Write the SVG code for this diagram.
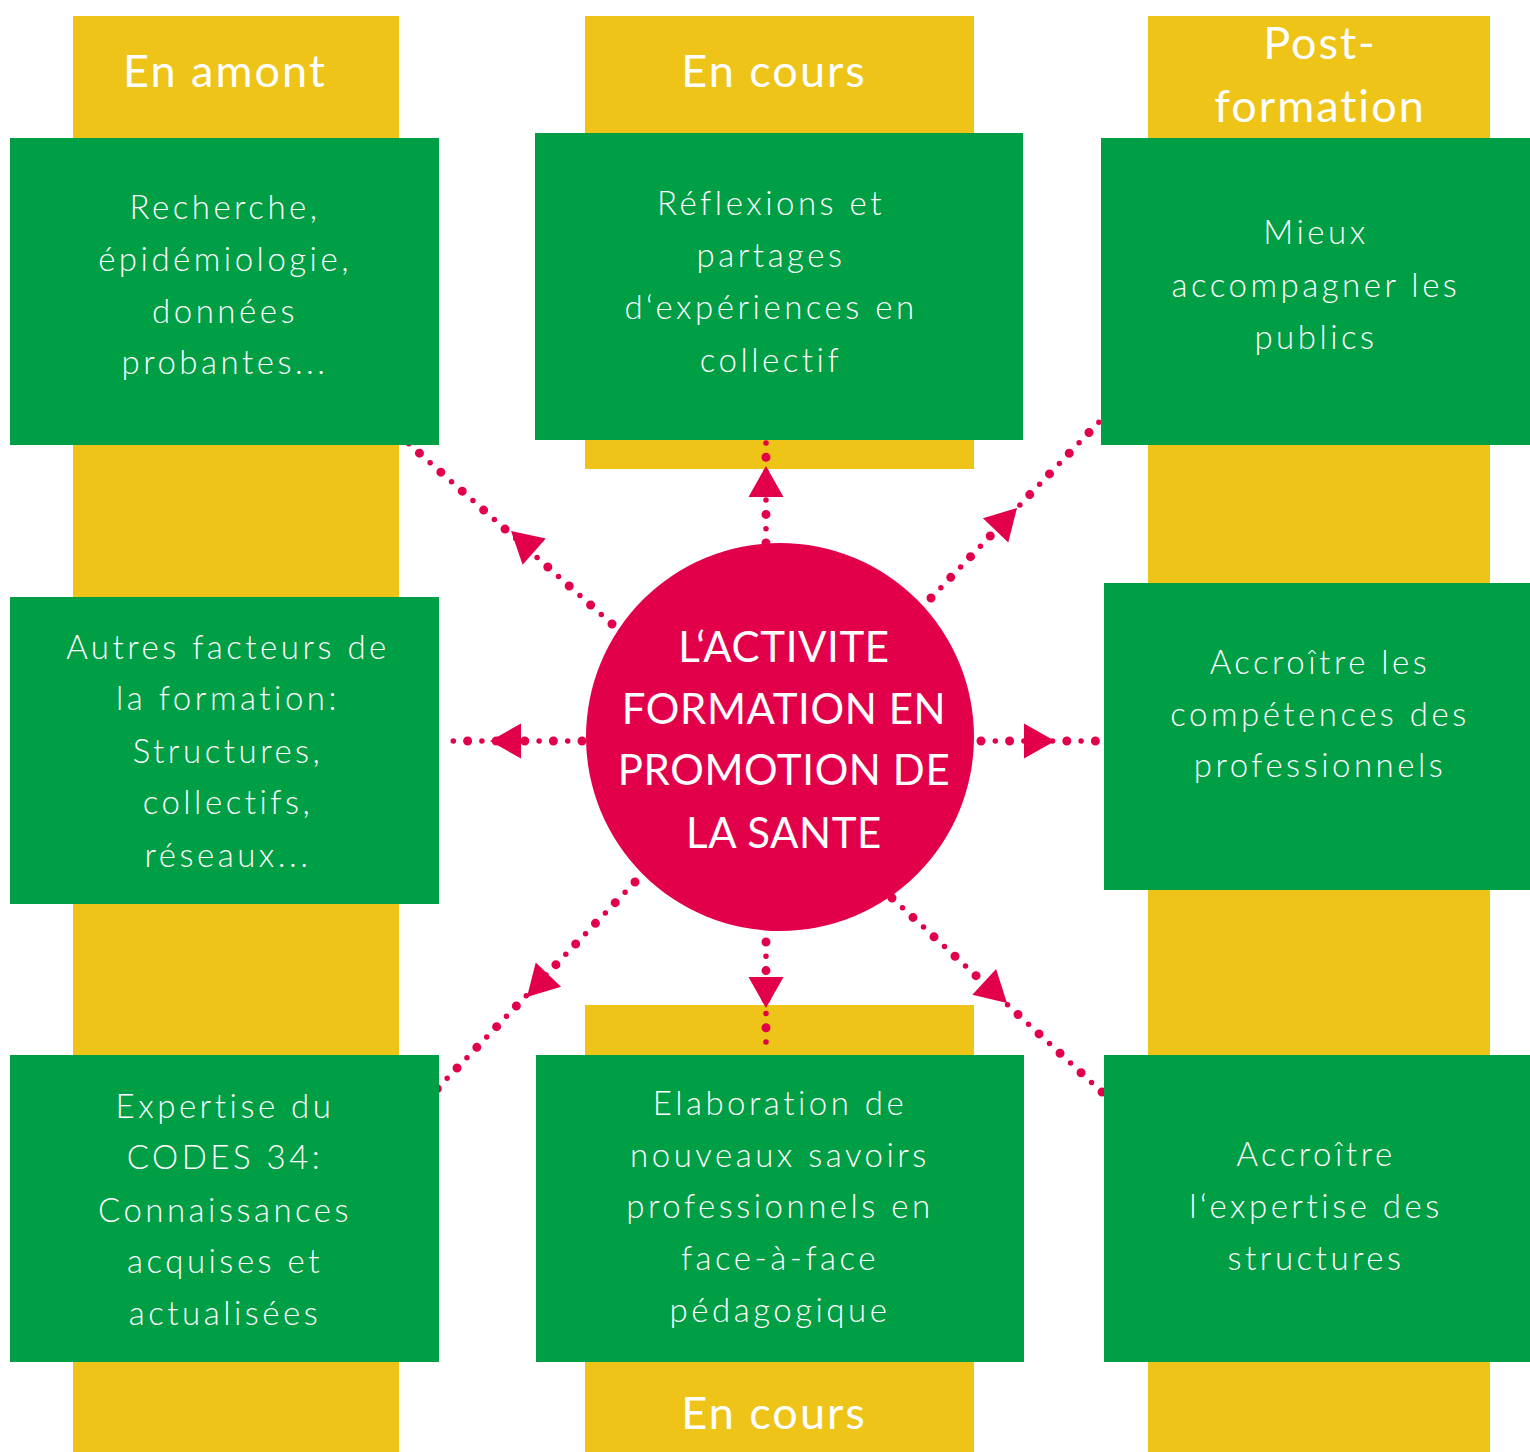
<svg xmlns="http://www.w3.org/2000/svg" xmlns:xlink="http://www.w3.org/1999/xlink" width="1530" height="1452" viewBox="0 0 1530 1452">
<style>
.col{fill:#EDC417}
.box{fill:#009E45}
.hub{fill:#E3004A}
.t{font-family:Lato,"Open Sans","Liberation Sans",sans-serif;font-weight:300;font-size:33px;letter-spacing:3.5px;fill:#fff;text-anchor:middle}
.h{font-family:Lato,"Open Sans","Liberation Sans",sans-serif;font-weight:400;font-size:45px;letter-spacing:2px;fill:#fff;text-anchor:middle}
.c{font-family:Lato,"Open Sans","Liberation Sans",sans-serif;font-weight:400;font-size:42px;letter-spacing:0.6px;fill:#fff;text-anchor:middle}
.dl{stroke:#E3004A;stroke-width:9;stroke-linecap:round;stroke-dasharray:0 28.6;fill:none}
.ds{stroke:#E3004A;stroke-width:5.5;stroke-linecap:round;stroke-dasharray:0 28.6;stroke-dashoffset:-14.3;fill:none}
.ah{fill:#E3004A}
</style>
<defs>
<polygon id="arr" points="0,0 -31,-17.5 -31,17.5"/>
</defs>
<rect width="1530" height="1452" fill="#fff"/>
<g id="columns">
<rect class="col" x="73" y="16" width="326" height="1436"/>
<rect class="col" x="585" y="16" width="389" height="453"/>
<rect class="col" x="585" y="1005" width="389" height="447"/>
<rect class="col" x="1148" y="16" width="342" height="1436"/>
<text class="h" x="225" y="87">En amont</text>
<text class="h" x="774" y="87">En cours</text>
<text class="h" x="1320" y="59">Post-</text>
<text class="h" x="1320" y="122">formation</text>
<text class="h" x="774" y="1429">En cours</text>
</g>
<g id="connectors">
<line class="dl" x1="612" y1="624" x2="408" y2="443"/>
<line class="ds" x1="612" y1="624" x2="408" y2="443"/>
<line class="dl" x1="766" y1="543" x2="766" y2="440"/>
<line class="ds" x1="766" y1="543" x2="766" y2="440"/>
<line class="dl" x1="931" y1="598" x2="1100" y2="421"/>
<line class="ds" x1="931" y1="598" x2="1100" y2="421"/>
<line class="dl" x1="582" y1="741" x2="440" y2="741"/>
<line class="ds" x1="582" y1="741" x2="440" y2="741"/>
<line class="dl" x1="981" y1="741" x2="1100" y2="741"/>
<line class="ds" x1="981" y1="741" x2="1100" y2="741"/>
<line class="dl" x1="635" y1="882" x2="436" y2="1090"/>
<line class="ds" x1="635" y1="882" x2="436" y2="1090"/>
<line class="dl" x1="766" y1="942" x2="766" y2="1055"/>
<line class="ds" x1="766" y1="942" x2="766" y2="1055"/>
<line class="dl" x1="892" y1="898" x2="1103" y2="1093"/>
<line class="ds" x1="892" y1="898" x2="1103" y2="1093"/>
<use xlink:href="#arr" class="ah" transform="translate(511,531) rotate(-138.5)"/>
<use xlink:href="#arr" class="ah" transform="translate(766,466) rotate(-90)"/>
<use xlink:href="#arr" class="ah" transform="translate(1017,508) rotate(-46.3)"/>
<use xlink:href="#arr" class="ah" transform="translate(490,741) rotate(180)"/>
<use xlink:href="#arr" class="ah" transform="translate(1055,741) rotate(0)"/>
<use xlink:href="#arr" class="ah" transform="translate(527,997) rotate(133.7)"/>
<use xlink:href="#arr" class="ah" transform="translate(766,1008) rotate(90)"/>
<use xlink:href="#arr" class="ah" transform="translate(1007,1003) rotate(42.7)"/>
</g>
<g id="n-amont1">
<rect class="box" x="10" y="138" width="429" height="307"/>
<text class="t" x="225" y="219">Recherche,</text>
<text class="t" x="225" y="271">épidémiologie,</text>
<text class="t" x="225" y="323">données</text>
<text class="t" x="225" y="374">probantes...</text>
</g>
<g id="n-amont2">
<rect class="box" x="10" y="597" width="429" height="307"/>
<text class="t" x="228" y="659">Autres facteurs de</text>
<text class="t" x="228" y="710">la formation:</text>
<text class="t" x="228" y="763">Structures,</text>
<text class="t" x="228" y="814">collectifs,</text>
<text class="t" x="228" y="867">réseaux...</text>
</g>
<g id="n-amont3">
<rect class="box" x="10" y="1055" width="429" height="307"/>
<text class="t" x="225" y="1118">Expertise du</text>
<text class="t" x="225" y="1169">CODES 34:</text>
<text class="t" x="225" y="1222">Connaissances</text>
<text class="t" x="225" y="1273">acquises et</text>
<text class="t" x="225" y="1325">actualisées</text>
</g>
<g id="n-cours1">
<rect class="box" x="535" y="133" width="488" height="307"/>
<text class="t" x="771" y="215">Réflexions et</text>
<text class="t" x="771" y="267">partages</text>
<text class="t" x="771" y="319">d‘expériences en</text>
<text class="t" x="771" y="372">collectif</text>
</g>
<g id="n-cours2">
<rect class="box" x="536" y="1055" width="488" height="307"/>
<text class="t" x="780" y="1115">Elaboration de</text>
<text class="t" x="780" y="1167">nouveaux savoirs</text>
<text class="t" x="780" y="1218">professionnels en</text>
<text class="t" x="780" y="1270">face-à-face</text>
<text class="t" x="780" y="1322">pédagogique</text>
</g>
<g id="n-post1">
<rect class="box" x="1101" y="138" width="429" height="307"/>
<text class="t" x="1316" y="244">Mieux</text>
<text class="t" x="1316" y="297">accompagner les</text>
<text class="t" x="1316" y="349">publics</text>
</g>
<g id="n-post2">
<rect class="box" x="1104" y="583" width="426" height="307"/>
<text class="t" x="1320" y="674">Accroître les</text>
<text class="t" x="1320" y="726">compétences des</text>
<text class="t" x="1320" y="777">professionnels</text>
</g>
<g id="n-post3">
<rect class="box" x="1104" y="1055" width="426" height="307"/>
<text class="t" x="1316" y="1166">Accroître</text>
<text class="t" x="1316" y="1218">l‘expertise des</text>
<text class="t" x="1316" y="1270">structures</text>
</g>
<g id="n-hub">
<circle class="hub" cx="780" cy="737" r="194"/>
<text class="c" x="784" y="662">L‘ACTIVITE</text>
<text class="c" x="784" y="724">FORMATION EN</text>
<text class="c" x="784" y="785">PROMOTION DE</text>
<text class="c" x="784" y="848">LA SANTE</text>
</g>
</svg>
